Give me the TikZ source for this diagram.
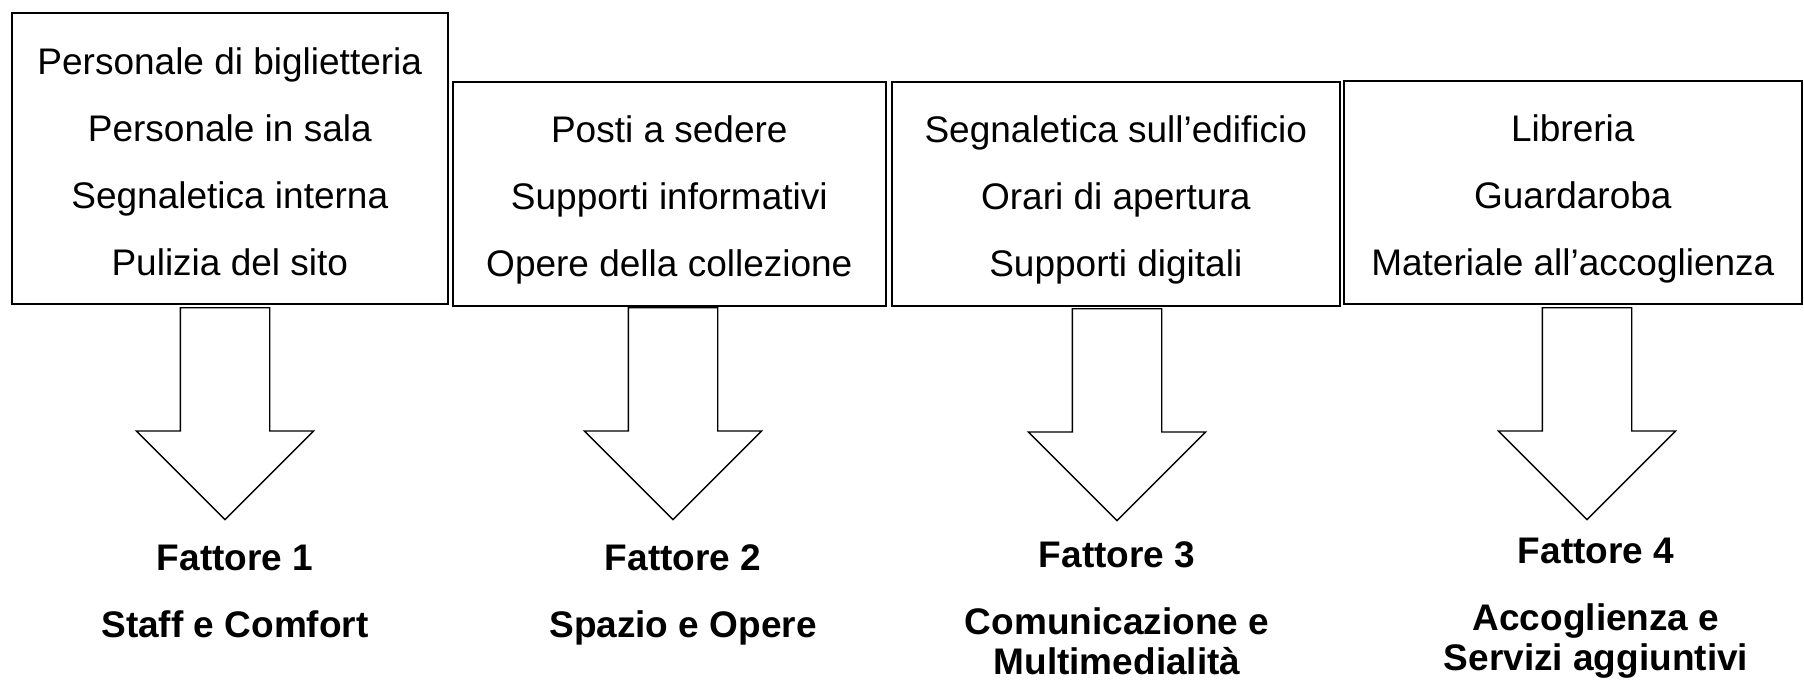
\documentclass[tikz,border=0pt]{standalone}
\usepackage{fontspec}
\setmainfont{Liberation Sans}
\usetikzlibrary{positioning,shapes.arrows}

\begin{document}
\begin{tikzpicture}[x=1pt, y=-1pt,
        box/.style = {draw, line width=1.6pt, anchor=north west, align=center, minimum height=224pt, text height=166pt, text depth=0pt, font=\fontsize{37}{67}\selectfont},
        down/.style = {single arrow, draw, line width=1.4pt, rotate=-90, anchor=tail, minimum height=212pt, inner xsep=0pt, inner ysep=44pt, single arrow head extend=44pt, single arrow tip angle=90, single arrow head indent=0pt},
        fattore/.style = {align=center, inner sep=0pt, font=\bfseries\fontsize{37}{40}\selectfont}]
    \useasboundingbox (0,0) rectangle (1804,680);

    \node[box, minimum width=436pt, minimum height=291pt, text height=235pt] (b1) at (11,12) {Personale di biglietteria\\Personale in sala\\Segnaletica interna\\Pulizia del sito};
    \node[box, minimum width=433pt] (b2) at (452,81) {Posti a sedere\\Supporti informativi\\Opere della collezione};
    \node[box, minimum width=448pt] (b3) at (891,81) {Segnaletica sull’edificio\\Orari di apertura\\Supporti digitali};
    \node[box, minimum width=458pt, minimum height=223pt] (b4) at (1343,80) {Libreria\\Guardaroba\\Materiale all’accoglienza};

    \node[down] (a1) at (225,307) {};
    \node[down] (a2) at (673,307) {};
    \node[down] (a3) at (1117,308) {};
    \node[down] (a4) at (1587,307) {};

    \node[fattore] (f1) [below = 24pt of a1.tip, xshift=10pt] {Fattore 1\\[27pt]Staff e Comfort};
    \node[fattore] (f2) [below = 24pt of a2.tip, xshift=10pt] {Fattore 2\\[27pt]Spazio e Opere};
    \node[fattore] (f3) [below = 20pt of a3.tip] {Fattore 3\\[27pt]Comunicazione e\\Multimedialità};
    \node[fattore] (f4) [below = 17pt of a4.tip, xshift=9pt] {Fattore 4\\[27pt]Accoglienza e\\Servizi aggiuntivi};

\end{tikzpicture}
\end{document}
